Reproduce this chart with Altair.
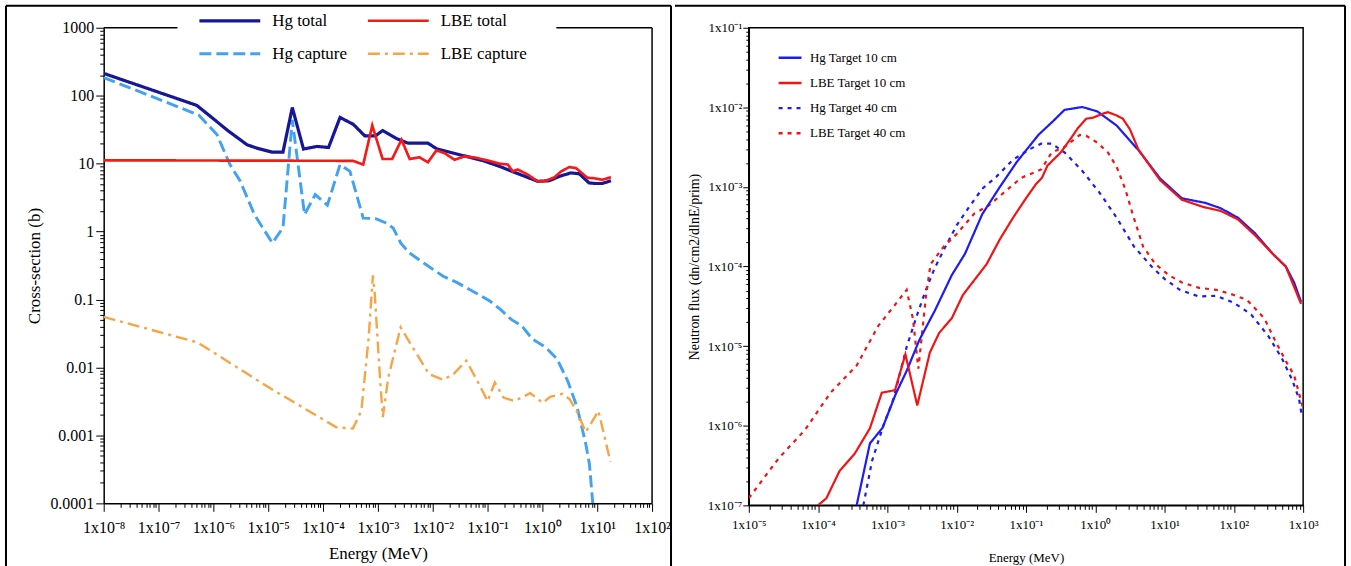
import json
import altair as alt
import pandas as pd

SERIF = "Liberation Serif"

# ---------------- left panel: cross sections (b) vs energy (MeV) ----------------
hg_total_E = [1e-8, 5.0e-7, 1.9e-6, 4.1e-6, 6.2e-6, 1.17e-5, 1.86e-5, 2.75e-5, 4.4e-5,
              7.7e-5, 1.26e-4, 2.04e-4, 3.55e-4, 5.75e-4, 9.1e-4, 1.22e-3, 2.2e-3,
              3.55e-3, 8.2e-3, 1.17e-2, 2.35e-2, 4.1e-2, 8.2e-2, 0.166, 0.33, 0.82,
              1.34, 2.04, 3.3, 4.7, 7.1, 9.4, 12.3, 17.8]
hg_total_s = [213, 72, 30, 19, 16.9, 14.8, 14.8, 67, 16.4, 17.9, 17.3, 47.8, 38, 25.7,
              25.7, 30.7, 23.3, 20, 20, 16.6, 14.3, 12.8, 11.1, 9.1, 7.3, 5.5, 5.6, 6.5,
              7.3, 7.1, 5.2, 5.1, 5.1, 5.6]

lbe_total_E = [1e-8, 3.5e-4, 5.4e-4, 7.9e-4, 1.22e-3, 1.82e-3, 2.7e-3, 3.8e-3, 5.75e-3,
               8.2e-3, 1.17e-2, 1.66e-2, 2.5e-2, 3.8e-2, 6.2e-2, 0.101, 0.166, 0.234,
               0.288, 0.355, 0.54, 0.82, 1.09, 1.66, 2.2, 3.1, 4.1, 6.6, 8.7, 12.3, 17.8]
lbe_total_s = [11.2, 11.0, 9.7, 36.5, 11.7, 11.7, 22.5, 11.7, 12.4, 10.5, 15.7, 14.2, 11.4,
               12.8, 12.2, 11.1, 10.0, 9.7, 7.7, 8.2, 6.9, 5.5, 5.5, 6.3, 7.7, 8.9, 8.6,
               6.2, 6.1, 5.8, 6.3]

hg_capt_E = [1e-8, 5.4e-7, 1.17e-6, 2.0e-6, 3.1e-6, 5.6e-6, 1.19e-5, 1.86e-5, 2.75e-5,
             4.6e-5, 7.2e-5, 1.2e-4, 2.04e-4, 3.1e-4, 5.4e-4, 9.1e-4, 1.41e-3, 1.9e-3,
             2.6e-3, 3.7e-3, 7.4e-3, 1.55e-2, 2.8e-2, 6.0e-2, 0.11, 0.17, 0.27, 0.42,
             0.66, 1.17, 1.86, 2.9, 4.3, 6.2, 7.2, 8.3]
hg_capt_s = [185, 52, 26.6, 9.7, 5.5, 1.78, 0.68, 1.14, 44, 1.78, 3.5, 2.44, 9.7, 7.7,
             1.58, 1.55, 1.34, 1.13, 0.68, 0.49, 0.33, 0.22, 0.177, 0.126, 0.095, 0.072,
             0.051, 0.041, 0.026, 0.0196, 0.0132, 0.0063, 0.0026, 0.00074, 0.00038, 0.0001]

lbe_capt_E = [1e-8, 5.1e-7, 8.1e-7, 1.02e-5, 1.74e-4, 3.5e-4, 5.0e-4, 6.8e-4, 8.1e-4,
              8.7e-4, 1.1e-3, 1.23e-3, 1.55e-3, 2.6e-3, 8.5e-3, 1.55e-2, 2.4e-2, 4.1e-2,
              6.9e-2, 0.1, 0.136, 0.195, 0.31, 0.6, 1.02, 1.38, 2.34, 3.16, 4.3, 6.2, 8.3,
              10.5, 17.4]
lbe_capt_s = [0.0555, 0.0234, 0.0186, 0.0051, 0.00132, 0.00126, 0.00231, 0.0276, 0.227,
              0.134, 0.0064, 0.00186, 0.0072, 0.039, 0.008, 0.0066, 0.008, 0.0126, 0.0058,
              0.0032, 0.006, 0.0036, 0.0032, 0.0042, 0.003, 0.0037, 0.0041, 0.0034, 0.0022,
              0.00112, 0.00166, 0.0023, 0.00041]

# ---------------- right panel: neutron flux vs energy (MeV) ----------------
hg10_E = [3.6e-4, 5.6e-4, 8.5e-4, 1.32e-3, 1.9e-3, 2.9e-3, 4.8e-3, 8.5e-3, 1.32e-2,
          2.34e-2, 4.2e-2, 7.4e-2, 0.151, 0.25, 0.36, 0.65, 1.07, 2.04, 4.2, 8.6, 17.8,
          38.9, 64.6, 115, 204, 363, 562, 741, 933]
hg10_f = [1e-7, 6e-7, 9.4e-7, 2.5e-6, 4.9e-6, 1.2e-5, 2.75e-5, 7.8e-5, 1.45e-4, 4.55e-4,
          1e-3, 2.07e-3, 4.5e-3, 6.8e-3, 9.3e-3, 1.01e-2, 8.9e-3, 5.9e-3, 2.9e-3, 1.28e-3,
          7.2e-4, 6.3e-4, 5.4e-4, 4.1e-4, 2.6e-4, 1.45e-4, 1e-4, 6.3e-5, 3.6e-5]

lbe10_E = [1.0e-4, 1.32e-4, 2.04e-4, 3.4e-4, 5.6e-4, 8.3e-4, 1.29e-3, 1.82e-3, 2.7e-3,
           4.1e-3, 5.6e-3, 8.5e-3, 1.23e-2, 2.7e-2, 4.2e-2, 6.5e-2, 0.1, 0.141, 0.17,
           0.204, 0.316, 0.447, 0.562, 0.741, 0.92, 1.32, 1.53, 2.04, 2.5, 3.16, 4.2, 8.6,
           17.8, 36.3, 64.6, 115, 204, 363, 562, 933]
lbe10_f = [1e-7, 1.23e-7, 2.7e-7, 4.5e-7, 9.3e-7, 2.6e-6, 2.8e-6, 7.9e-6, 1.8e-6, 8.3e-6,
           1.47e-5, 2.24e-5, 4.4e-5, 1.07e-4, 2.2e-4, 4.1e-4, 7.2e-4, 1.1e-3, 1.3e-3,
           1.85e-3, 2.7e-3, 4.1e-3, 5.5e-3, 7.2e-3, 7.4e-3, 8.4e-3, 8.7e-3, 7.9e-3, 7.2e-3,
           5.3e-3, 2.95e-3, 1.22e-3, 6.9e-4, 5.6e-4, 5e-4, 3.9e-4, 2.45e-4, 1.45e-4, 1e-4,
           3.4e-5]

hg40_E = [4.5e-4, 6.0e-4, 8.5e-4, 1.23e-3, 1.9e-3, 2.7e-3, 3.6e-3, 4.8e-3, 6.9e-3, 1e-2,
          1.51e-2, 2.34e-2, 3.6e-2, 6.5e-2, 0.115, 0.166, 0.234, 0.363, 0.646, 1.15, 2.04,
          3.63, 6.5, 10, 16.6, 31.6, 56, 100, 178, 316, 490, 692, 871, 955]
hg40_f = [1e-7, 3.6e-7, 9.3e-7, 2.2e-6, 9.8e-6, 2.5e-5, 5.1e-5, 9.5e-5, 1.78e-4, 3.3e-4,
          5.6e-4, 9.5e-4, 1.3e-3, 2.2e-3, 3e-3, 3.5e-3, 3.5e-3, 2.7e-3, 1.6e-3, 8.5e-4,
          4.1e-4, 1.78e-4, 1e-4, 7e-5, 5.1e-5, 4.2e-5, 4.3e-5, 3.5e-5, 2.5e-5, 1.33e-5,
          7.1e-6, 3.8e-6, 2.2e-6, 1.35e-6]

lbe40_E = [1e-5, 2.7e-5, 6.5e-5, 1.51e-4, 3.6e-4, 7.4e-4, 1.32e-3, 1.9e-3, 2.34e-3,
           2.8e-3, 3.6e-3, 4.2e-3, 6.5e-3, 1e-2, 1.78e-2, 2.95e-2, 4.8e-2, 8.5e-2, 0.166,
           0.234, 0.363, 0.6, 0.74, 1.07, 1.53, 2.04, 2.7, 3.6, 4.9, 7.4, 11.5, 17.8, 31.6,
           56, 100, 155, 275, 389, 562, 741, 1000]
lbe40_f = [1.23e-7, 3.9e-7, 8.9e-7, 2.6e-6, 5.7e-6, 1.8e-5, 3.4e-5, 5.1e-5, 2.2e-5, 5.2e-6,
           4.2e-5, 1.07e-4, 1.78e-4, 2.57e-4, 4.6e-4, 5.9e-4, 8.5e-4, 1.3e-3, 1.66e-3,
           2.7e-3, 3.2e-3, 4.5e-3, 4.4e-3, 3.6e-3, 2.7e-3, 1.78e-3, 9.5e-4, 4.1e-4, 1.78e-4,
           1.07e-4, 7.8e-5, 6.3e-5, 5.4e-5, 5.1e-5, 4.4e-5, 3.8e-5, 2.24e-5, 1.2e-5, 6.5e-6,
           4.3e-6, 1.65e-6]


def long_table(series):
    rows = []
    for name, xs, ys in series:
        for x, y in zip(xs, ys):
            rows.append({"series": name, "E": x, "v": y})
    return pd.DataFrame(rows)


SUP = "⁰¹²³⁴⁵⁶⁷⁸⁹"


def sup(n):
    return "".join("⁻" if c == "-" else SUP[int(c)] for c in str(n))


def power_labels(lo, hi):
    return ["1x10" + sup(k) for k in range(lo, hi + 1)]


def label_expr(labels, lo):
    return "%s[round(log(datum.value)/LN10)+(%d)]" % (json.dumps(labels, ensure_ascii=False), -lo)


def decades(lo, hi):
    return [10.0 ** k for k in range(lo, hi + 1)]


def minors(lo, hi):
    return [m * 10.0 ** k for k in range(lo, hi) for m in range(2, 10)]


def major_axis(orient, values, labels, lo, size, tick, pad, title, tfont, tx, ty):
    return alt.Axis(
        orient=orient, values=values, labelExpr=label_expr(labels, lo),
        labelFont=SERIF, labelFontSize=size, labelColor="black",
        labelOverlap=False, labelFlush=False, labelBound=False,
        tickSize=tick, tickColor="black", tickWidth=1, labelPadding=pad,
        domainColor="black", domainWidth=1.5, grid=False,
        title=title, titleFont=SERIF, titleFontSize=tfont, titleFontWeight="normal",
        titleColor="black", titleX=tx, titleY=ty, titleAlign="center",
        titleBaseline="middle", titleAngle=-90 if orient == "left" else 0,
    )


def minor_axis(orient, values, tick):
    return alt.Axis(orient=orient, values=values, labels=False, tickSize=tick,
                    tickColor="black", tickWidth=1, domain=False, grid=False, title=None)


def rule_v(x, y0, y1, w=2):
    return alt.Chart(alt.Data(values=[{}])).mark_rule(color="black", strokeWidth=w).encode(
        x=alt.value(x), y=alt.value(y0), y2=alt.value(y1))


def rule_h(x0, x1, y, w=2):
    return alt.Chart(alt.Data(values=[{}])).mark_rule(color="black", strokeWidth=w).encode(
        x=alt.value(x0), x2=alt.value(x1), y=alt.value(y))


# ---------------- left panel ----------------
LW, LH = 550, 477
# legend grid fills column by column: Hg entries left, LBE entries right
left_names = ["Hg total", "Hg capture", "LBE total", "LBE capture"]
left_colors = ["#16169a", "#42a2f2", "#f81818", "#f9a444"]
left_dash = [[1, 0], [12, 5], [1, 0], [12, 5, 3, 5]]
left_width = [3.2, 2.4, 3.2, 2.4]

left_df = long_table([
    ("Hg capture", hg_capt_E, hg_capt_s),
    ("LBE capture", lbe_capt_E, lbe_capt_s),
    ("Hg total", hg_total_E, hg_total_s),
    ("LBE total", lbe_total_E, lbe_total_s),
])

lx_scale = alt.Scale(type="log", domain=[1e-8, 1e2], nice=False)
ly_scale = alt.Scale(type="log", domain=[1e-4, 1e3], nice=False)

left_legend = alt.Legend(orient="none", legendX=94, legendY=-15.5, columns=2,
                         title=None, symbolType="stroke", symbolSize=3721,
                         labelFont=SERIF, labelFontSize=17, labelColor="black",
                         labelOffset=10, clipHeight=17, rowPadding=15,
                         columnPadding=18, padding=0, labelLimit=300)

left_lines = alt.Chart(left_df).mark_line(clip=True, strokeCap="butt", strokeJoin="miter").encode(
    x=alt.X("E:Q", scale=lx_scale,
            axis=major_axis("bottom", decades(-8, 2), power_labels(-8, 2), -8, 16, 8, 8,
                            "Energy (MeV)", 17, LW / 2, 50)),
    y=alt.Y("v:Q", scale=ly_scale,
            axis=major_axis("left", decades(-4, 3),
                            ["0.0001", "0.001", "0.01", "0.1", "1", "10", "100", "1000"], -4,
                            16, 8, 2, "Cross-section (b)", 17, -69, LH / 2)),
    color=alt.Color("series:N", scale=alt.Scale(domain=left_names, range=left_colors),
                    legend=left_legend),
    strokeDash=alt.StrokeDash("series:N", scale=alt.Scale(domain=left_names, range=left_dash),
                              legend=left_legend),
    strokeWidth=alt.StrokeWidth("series:N", scale=alt.Scale(domain=left_names, range=left_width),
                                legend=left_legend),
    detail="series:N",
)

left_minor = alt.Chart(pd.DataFrame({"E": [1e-3], "v": [1.0]})).mark_point(opacity=0).encode(
    x=alt.X("E:Q", scale=lx_scale, axis=minor_axis("bottom", minors(-8, 2), 4)),
    y=alt.Y("v:Q", scale=ly_scale, axis=minor_axis("left", minors(-4, 3), 4)),
)

left = alt.layer(
    left_lines, left_minor,
    # plot box: top edge broken by the legend, right edge
    rule_h(0, 74, 0, 1.5), rule_h(454, LW, 0, 1.5), rule_v(LW, 0, LH, 1.5),
    # outer figure frame
    rule_v(-98, -22, 540), rule_h(-98, 569, -22), rule_v(569, -22, 540),
).resolve_axis(x="independent", y="independent").properties(
    width=LW, height=LH, view=alt.ViewBackground(stroke="transparent"))

# ---------------- right panel ----------------
RW, RH = 556, 479
right_names = ["Hg Target 10 cm", "LBE Target 10 cm", "Hg Target 40 cm", "LBE Target 40 cm"]
right_colors = ["#1c1cf5", "#f21414", "#1c1cf5", "#f21414"]
right_dash = [[1, 0], [1, 0], [4, 5], [4, 5]]

right_df = long_table([
    ("Hg Target 40 cm", hg40_E, hg40_f),
    ("LBE Target 40 cm", lbe40_E, lbe40_f),
    ("Hg Target 10 cm", hg10_E, hg10_f),
    ("LBE Target 10 cm", lbe10_E, lbe10_f),
])

rx_scale = alt.Scale(type="log", domain=[1e-5, 1e3], nice=False)
ry_scale = alt.Scale(type="log", domain=[1e-7, 1e-1], nice=False)

right_legend = alt.Legend(orient="none", legendX=28.4, legendY=23, title=None,
                          symbolType="stroke", symbolSize=529, symbolStrokeWidth=2.5,
                          labelFont=SERIF, labelFontSize=13, labelColor="black",
                          labelOffset=7, clipHeight=14, rowPadding=11.3,
                          padding=0, labelLimit=300)

right_lines = alt.Chart(right_df).mark_line(clip=True, strokeWidth=2.2, strokeCap="butt").encode(
    x=alt.X("E:Q", scale=rx_scale,
            axis=major_axis("bottom", decades(-5, 3), power_labels(-5, 3), -5, 13, 7, 6,
                            "Energy (MeV)", 13, RW / 2, 52)),
    y=alt.Y("v:Q", scale=ry_scale,
            axis=major_axis("left", decades(-7, -1), power_labels(-7, -1), -7, 13, 6, 1,
                            "Neutron flux (dn/cm2/dlnE/prim)", 14, -54, RH / 2)),
    color=alt.Color("series:N", scale=alt.Scale(domain=right_names, range=right_colors),
                    legend=right_legend),
    strokeDash=alt.StrokeDash("series:N", scale=alt.Scale(domain=right_names, range=right_dash),
                              legend=right_legend),
    detail="series:N",
)

right_minor = alt.Chart(pd.DataFrame({"E": [1.0], "v": [1e-4]})).mark_point(opacity=0).encode(
    x=alt.X("E:Q", scale=rx_scale, axis=minor_axis("bottom", minors(-5, 3), 4)),
    y=alt.Y("v:Q", scale=ry_scale, axis=minor_axis("left", minors(-7, -1), 3)),
)

right = alt.layer(
    right_lines, right_minor,
    rule_h(-74, 598, -22), rule_v(598, -22, 540),
).resolve_axis(x="independent", y="independent").properties(
    width=RW, height=RH, view=alt.ViewBackground(stroke="black", strokeWidth=1.5))

chart = alt.hconcat(left, right, spacing=0).resolve_scale(
    x="independent", y="independent", color="independent",
    strokeDash="independent", strokeWidth="independent",
).resolve_legend(
    color="independent", strokeDash="independent", strokeWidth="independent",
).properties(
    padding={"left": 4, "top": 3, "right": 4, "bottom": 0},
    background="white",
).configure_view(stroke="transparent")

chart.save("out.html", embed_options={"renderer": "svg", "actions": False})
